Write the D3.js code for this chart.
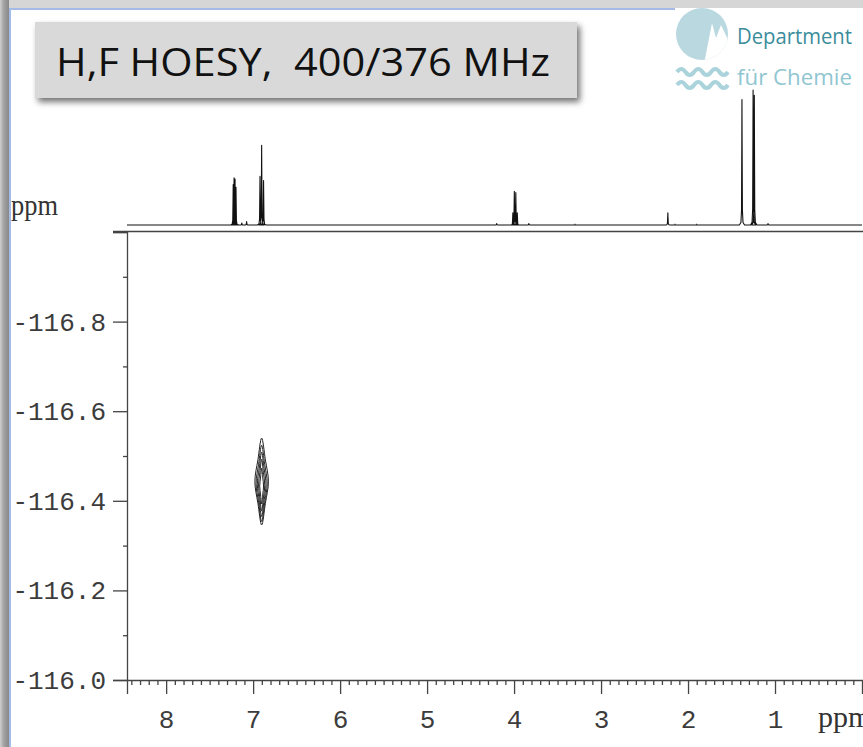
<!DOCTYPE html>
<html lang="en">
<head>
<meta charset="UTF-8">
<title>H,F HOESY</title>
<script src="https://cdn.jsdelivr.net/npm/d3@7"></script>
<style>
    body { margin: 0; background: #ffffff; }
    svg { display: block; }
    .tick text { font-family: 'Liberation Mono', monospace; font-size: 26px; fill: #3c3c3c; }
</style>
</head>
<body>
<div id="chart"></div>
<script>
    /*------------------- data --------------------*/
    // 1H projection: [ppm, intensity] of each resolved line
    const protonPeaks = [
        [7.229, 30], [7.219, 35], [7.208, 34], [7.197, 28],
        [7.13, 1.5], [7.075, 2.5],
        [6.921, 36], [6.902, 59], [6.880, 33],
        [4.20, 1], [4.014, 9], [3.997, 25], [3.980, 24], [3.963, 9], [3.83, 1],
        [3.30, 0.6],
        [2.232, 9], [2.15, 0.6], [1.90, 0.6],
        [1.380, 93],
        [1.252, 100], [1.238, 96],
        [1.08, 1]
    ];

    // HOESY cross peak (F2 = 1H ppm, F1 = 19F ppm) and its contour levels
    const crossPeak = { h: 6.902, f: -116.443 };
    const contourLevels = [
        { dh: 0.078, df: 0.097, shift: 0.000 },
        { dh: 0.064, df: 0.085, shift: 0.004 },
        { dh: 0.050, df: 0.072, shift: 0.006 },
        { dh: 0.036, df: 0.058, shift: 0.008 },
        { dh: 0.022, df: 0.040, shift: 0.010 }
    ];

    const xTicks = [8, 7, 6, 5, 4, 3, 2, 1];
    const yTicks = [-117.0, -116.8, -116.6, -116.4, -116.2, -116.0];
    const yTickLabels = ["", "-116.8", "-116.6", "-116.4", "-116.2", "-116.0"];

    const titleText = "H,F HOESY,  400/376 MHz";

    /*------------------- layout --------------------*/
    const width = 863, height = 747;
    const plot = { left: 127, right: 862, top: 232, bottom: 680 };

    const svg = d3.select("#chart").append("svg")
        .attr("width", width).attr("height", height);

    const defs = svg.append("defs");
    const grad = defs.append("linearGradient").attr("id", "edge").attr("x1", 0).attr("x2", 1);
    grad.append("stop").attr("offset", "0%").attr("stop-color", "#d0d0d0");
    grad.append("stop").attr("offset", "40%").attr("stop-color", "#a4a4a4");
    grad.append("stop").attr("offset", "100%").attr("stop-color", "#888");

    const shadow = defs.append("filter").attr("id", "shadow")
        .attr("x", "-10%").attr("y", "-20%").attr("width", "125%").attr("height", "150%");
    shadow.append("feDropShadow").attr("dx", 3).attr("dy", 4)
        .attr("stdDeviation", 3).attr("flood-color", "#000").attr("flood-opacity", 0.55);

    defs.append("clipPath").attr("id", "logoClip")
        .append("circle").attr("cx", 702).attr("cy", 34).attr("r", 26);

    // window frame
    svg.append("rect").attr("x", 0).attr("y", 0).attr("width", width).attr("height", 8).attr("fill", "#d6d6d6");
    svg.append("rect").attr("x", 0).attr("y", 0).attr("width", 9).attr("height", height).attr("fill", "url(#edge)");
    svg.append("line").attr("x1", 9).attr("x2", 675).attr("y1", 9).attr("y2", 9)
        .attr("stroke", "#a3bbe6").attr("stroke-width", 2);
    svg.append("line").attr("x1", 10).attr("x2", 10).attr("y1", 8).attr("y2", height)
        .attr("stroke", "#a3bbe6").attr("stroke-width", 2);

    /*------------------- scales --------------------*/
    const x = d3.scaleLinear().domain([8.45, 0]).range([plot.left, plot.right]);
    const y = d3.scaleLinear().domain([-117.0, -116.0]).range([plot.top, plot.bottom]);
    const yProj = d3.scaleLinear().domain([0, 100]).range([225, 90]);

    /*------------------- 1D projection --------------------*/
    // narrow line shape around each line position: [offset ppm, fraction of height]
    const lineShape = [[0.03, 0], [0.012, 0.02], [0.005, 0.12], [0.0015, 0.7], [0, 1],
                       [-0.0015, 0.7], [-0.005, 0.12], [-0.012, 0.02], [-0.03, 0]];
    const projPoints = [[8.45, 0]];
    protonPeaks.forEach(([p, h]) => {
        lineShape.forEach(([d, f]) => projPoints.push([p + d, h * f]));
    });
    projPoints.push([0, 0]);

    const projLine = d3.line().x(d => x(d[0])).y(d => yProj(d[1]));
    svg.append("path")
        .datum(projPoints)
        .attr("d", projLine)
        .attr("fill", "none")
        .attr("stroke", "#111")
        .attr("stroke-width", 1.1)
        .attr("stroke-linejoin", "round");

    /*------------------- axes --------------------*/
    // frame top line
    svg.append("line").attr("x1", 113).attr("x2", width).attr("y1", plot.top - 0.5).attr("y2", plot.top - 0.5)
        .attr("stroke", "#444").attr("stroke-width", 1.3);

    const yMinor = d3.range(-116.9, -116.0, 0.2);
    svg.append("g").attr("transform", `translate(${plot.left},0)`)
        .call(d3.axisLeft(y).tickValues(yMinor).tickSize(4).tickFormat(""))
        .call(g => g.select(".domain").remove())
        .call(g => g.selectAll("line").attr("stroke", "#444").attr("stroke-width", 1.3));

    const yAxis = svg.append("g").attr("transform", `translate(${plot.left},0)`)
        .call(d3.axisLeft(y).tickValues(yTicks).tickSize(14).tickPadding(7)
            .tickFormat((d, i) => yTickLabels[i]));
    yAxis.select(".domain").attr("stroke", "#444").attr("stroke-width", 1.3);
    yAxis.selectAll("line").attr("stroke", "#444").attr("stroke-width", 1.3);
    yAxis.selectAll("text").attr("dy", "0.33em");

    const xMinor = d3.range(0.1, 8.45, 0.1).filter(v => Math.abs(v - Math.round(v)) > 0.01);
    svg.append("g").attr("transform", `translate(0,${plot.bottom})`)
        .call(d3.axisBottom(x).tickValues(xMinor).tickSize(5).tickFormat(""))
        .call(g => g.select(".domain").remove())
        .call(g => g.selectAll("line").attr("stroke", "#444").attr("stroke-width", 1.3));

    const xAxis = svg.append("g").attr("transform", `translate(0,${plot.bottom})`)
        .call(d3.axisBottom(x).tickValues(xTicks).tickSize(14).tickPadding(16).tickFormat(d3.format("d")));
    xAxis.select(".domain").attr("stroke", "#444").attr("stroke-width", 1.3);
    xAxis.selectAll("line").attr("stroke", "#444").attr("stroke-width", 1.3);

    // unit labels (the bottom one runs into the window edge, as in the original)
    svg.append("text").attr("x", 818).attr("y", 727)
        .attr("font-family", "'Liberation Serif', serif").attr("font-size", 30).attr("fill", "#333")
        .text("ppm");
    svg.append("text").attr("x", 11).attr("y", 215)
        .attr("font-family", "'Liberation Serif', serif").attr("font-size", 30).attr("fill", "#333")
        .attr("textLength", 47).attr("lengthAdjust", "spacingAndGlyphs")
        .text("ppm");

    /*------------------- contour --------------------*/
    const contourLine = d3.line().x(d => x(d[0])).y(d => y(d[1])).curve(d3.curveCatmullRomClosed.alpha(0.5));
    svg.append("g").selectAll("path")
        .data(contourLevels)
        .join("path")
        .attr("d", c => {
            const h = crossPeak.h, f = crossPeak.f + c.shift;
            return contourLine([
                [h, f - c.df],
                [h - c.dh * 0.55, f - c.df * 0.5],
                [h - c.dh, f],
                [h - c.dh * 0.55, f + c.df * 0.5],
                [h, f + c.df],
                [h + c.dh * 0.55, f + c.df * 0.5],
                [h + c.dh, f],
                [h + c.dh * 0.55, f - c.df * 0.5]
            ]);
        })
        .attr("fill", "none")
        .attr("stroke", "#222")
        .attr("stroke-width", 1);

    /*------------------- title box --------------------*/
    svg.append("rect").attr("x", 35).attr("y", 22).attr("width", 542).attr("height", 76)
        .attr("fill", "#d9d9d9").attr("filter", "url(#shadow)");
    svg.append("text").attr("x", 56).attr("y", 76)
        .attr("font-family", "'Open Sans', sans-serif").attr("font-size", 38).attr("fill", "#111")
        .attr("textLength", 494).attr("lengthAdjust", "spacingAndGlyphs")
        .style("white-space", "pre")
        .text(titleText);

    /*------------------- logo --------------------*/
    const logo = svg.append("g");
    logo.append("circle").attr("cx", 702).attr("cy", 34).attr("r", 26).attr("fill", "#b9d8e0");
    logo.append("path")
        .attr("d", "M704,64 L712,23 L716,38 L721,25 L731,46 L731,64 Z")
        .attr("fill", "#fff").attr("clip-path", "url(#logoClip)");
    [72, 85].forEach(wy => {
        logo.append("path")
            .attr("d", `M677,${wy} q4.25,-6 8.5,0 t8.5,0 t8.5,0 t8.5,0 t8.5,0 t8.5,0`)
            .attr("fill", "none").attr("stroke", "#abd3dc").attr("stroke-width", 4);
    });
    logo.append("text").attr("x", 737).attr("y", 44)
        .attr("font-family", "'Open Sans', sans-serif").attr("font-size", 22).attr("fill", "#3b8d9b")
        .attr("textLength", 115).attr("lengthAdjust", "spacingAndGlyphs")
        .text("Department");
    logo.append("text").attr("x", 737).attr("y", 85)
        .attr("font-family", "'Open Sans', sans-serif").attr("font-size", 22).attr("fill", "#90c6d1")
        .attr("textLength", 115).attr("lengthAdjust", "spacingAndGlyphs")
        .text("für Chemie");
</script>
</body>
</html>
